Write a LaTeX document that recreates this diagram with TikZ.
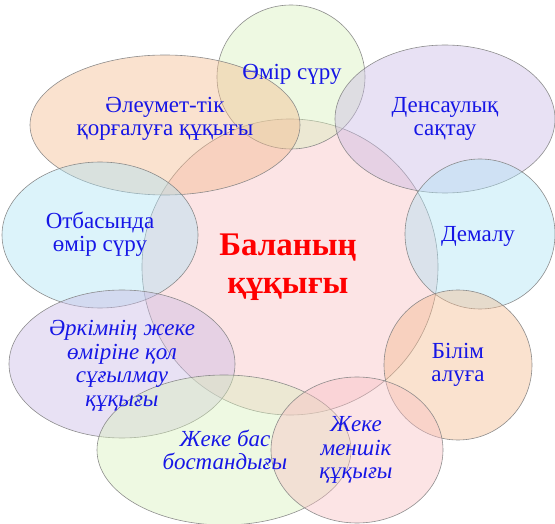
\documentclass[tikz,border=0pt]{standalone}
\usepackage{fontspec}
\setmainfont{Liberation Serif}
\usetikzlibrary{shapes.geometric}
\definecolor{txtblue}{RGB}{22,22,230}
\definecolor{cpink}{RGB}{248,190,194}
\definecolor{cgreen}{RGB}{215,240,185}
\definecolor{corange}{RGB}{244,185,140}
\definecolor{cpurple}{RGB}{200,184,228}
\definecolor{ccyan}{RGB}{172,226,244}
\definecolor{cline}{RGB}{130,130,130}
\tikzset{
  blob/.style={ellipse, draw=cline, line width=0.6pt, fill opacity=0.42, draw opacity=0.9, inner sep=0pt},
  lbl/.style={text=txtblue, font=\fontsize{23}{23}\selectfont, align=center, inner sep=0pt},
  ilbl/.style={lbl, font=\fontsize{23}{23.5}\selectfont\itshape},
  title/.style={text=red, font=\fontsize{33}{38}\selectfont\bfseries, align=center, inner sep=0pt}
}
\begin{document}
\begin{tikzpicture}[x=1pt,y=-1pt]
\useasboundingbox (0,0) rectangle (555,524);
% ellipses
\node[blob, fill=cpink, minimum width=296, minimum height=296] (c) at (290,267) {};
\node[blob, fill=cgreen, minimum width=148, minimum height=144] (e1) at (291,77) {};
\node[blob, fill=corange, minimum width=270, minimum height=140] (e2) at (165,125) {};
\node[blob, fill=cpurple, minimum width=220, minimum height=148] (e3) at (445,119) {};
\node[blob, fill=ccyan, minimum width=150, minimum height=150] (e4) at (480,234) {};
\node[blob, fill=ccyan, minimum width=196, minimum height=146] (e5) at (100,235) {};
\node[blob, fill=cpurple, minimum width=226, minimum height=148] (e6) at (122,364) {};
\node[blob, fill=corange, minimum width=148, minimum height=150] (e7) at (458,365) {};
\node[blob, fill=cgreen, minimum width=254, minimum height=150] (e8) at (224,450) {};
\node[blob, fill=cpink, minimum width=172, minimum height=146] (e9) at (357,450) {};
% labels
\node[title] (tc) at (288,267) {Баланың\\құқығы};
\node[lbl] (t1) at (292,74) {Өмір сүру};
\node[lbl] (t2) at (165,119) {Әлеумет-тік\\қорғалуға құқығы};
\node[lbl] (t3) at (445,119) {Денсаулық\\сақтау};
\node[lbl] (t4) at (478,236) {Демалу};
\node[lbl] (t5) at (100,234) {Отбасында\\өмір сүру};
\node[ilbl] (t6) at (122,366) {Әркімнің жеке\\өміріне қол\\сұғылмау\\құқығы};
\node[lbl] (t7) at (458,365) {Білім\\алуға};
\node[ilbl] (t8) at (225,450) {Жеке бас\\бостандығы};
\node[ilbl] (t9) at (356,450) {Жеке\\меншік\\құқығы};
\end{tikzpicture}
\end{document}
